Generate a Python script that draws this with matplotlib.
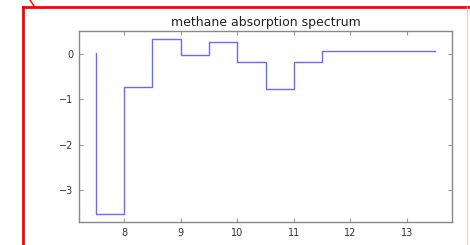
import matplotlib
matplotlib.use("Agg")
import matplotlib.pyplot as plt
from matplotlib.lines import Line2D

# wavelength band edges (micrometres) and absorption values (step 'pre')
wavelength = [7.5, 8.0, 8.5, 9.0, 9.5, 10.0, 10.5, 11.0, 11.5, 12.0, 12.5, 13.0, 13.5]
absorption = [0.02, -3.53, -0.72, 0.33, -0.02, 0.26, -0.18, -0.77, -0.18, 0.07, 0.07, 0.07, 0.07]
xticks = [8, 9, 10, 11, 12, 13]
yticks = [0, -1, -2, -3]
title = "methane absorption spectrum"

fig = plt.figure(figsize=(4.7, 2.45), dpi=100)
ax = fig.add_axes([0.168, 0.094, 0.794, 0.779])
ax.step(wavelength, absorption, where='pre', color='#6a6aff', lw=1.0)
ax.set_xlim(7.2, 13.8)
ax.set_ylim(-3.71, 0.51)
ax.set_xticks(xticks)
ax.set_yticks(yticks)
ax.set_yticklabels([f"\u2212{abs(v)}" if v < 0 else str(v) for v in yticks])
ax.tick_params(direction='in', top=True, right=True, labelsize=7, length=3,
               color='#999999', labelcolor='#333333', pad=4)
for s in ax.spines.values():
    s.set_color('#888888')
    s.set_linewidth(1.0)
ax.set_title(title, fontsize=9, color='#222222', pad=4)

# red screenshot frame
T = fig.transFigure
top = 1 - 7.5/245
fig.add_artist(Line2D([23/470, 23/470], [0, top], transform=T, color='#ff0000', lw=2.0))
fig.add_artist(Line2D([23/470, 1.0], [top, top], transform=T, color='#ff0000', lw=2.0))
fig.add_artist(Line2D([467/470, 467/470], [0, top], transform=T, color='#ffc8c8', lw=0.8))
fig.add_artist(Line2D([30/470, 35/470], [1.0, top], transform=T, color='#ff0000', lw=1.0))

fig.savefig("out.png", dpi=100)
